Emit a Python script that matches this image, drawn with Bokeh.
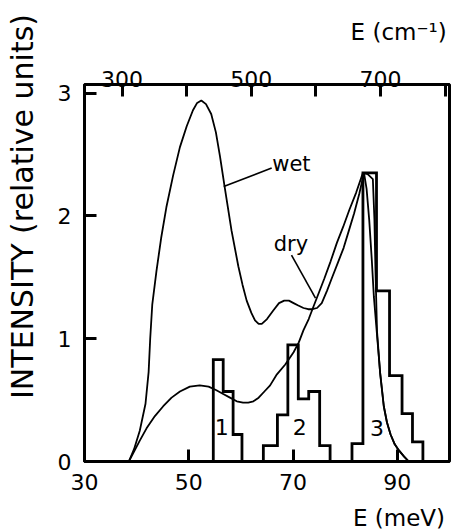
import math
from bokeh.plotting import figure
from bokeh.models import Range1d, LinearAxis, FixedTicker, Label
from bokeh.layouts import row, column
from bokeh.embed import file_html
from bokeh.resources import INLINE

# ---------------- data ----------------
wet_E = [38.5, 39.5, 40.6, 41.7, 42.3, 42.6, 43.0, 43.8, 44.7, 45.7, 47.0, 48.3,
         49.6, 50.8, 51.6, 52.4, 53.3, 54.3, 55.2, 56.0, 56.9, 58.2, 59.5, 60.3,
         61.1, 62.0, 62.7, 63.4, 64.0, 65.0, 66.2, 67.3, 68.3, 69.2, 70.1, 71.0,
         72.0, 72.9, 73.7, 74.6, 75.5, 76.5, 77.5, 78.6, 79.7, 80.7, 81.7, 82.7,
         83.6, 84.1, 84.6, 85.1, 85.5, 86.1, 86.7, 87.4, 88.0, 88.7, 89.5, 90.3,
         91.3, 92.2]
wet_I = [0.00, 0.10, 0.25, 0.47, 0.73, 1.00, 1.28, 1.55, 1.82, 2.07, 2.33, 2.56,
         2.73, 2.86, 2.92, 2.94, 2.91, 2.83, 2.68, 2.48, 2.23, 1.88, 1.59, 1.44,
         1.31, 1.21, 1.15, 1.12, 1.12, 1.16, 1.23, 1.29, 1.31, 1.31, 1.29, 1.27,
         1.25, 1.24, 1.24, 1.25, 1.29, 1.39, 1.50, 1.62, 1.74, 1.88, 2.02, 2.18,
         2.35, 2.22, 1.97, 1.64, 1.34, 1.03, 0.72, 0.45, 0.32, 0.22, 0.14, 0.09,
         0.04, 0.00]

dry_E = [38.5, 39.5, 40.6, 41.9, 43.5, 45.1, 46.7, 48.3, 50.2, 52.1, 53.8, 55.3,
         56.6, 57.9, 59.2, 60.4, 61.4, 62.4, 63.4, 64.5, 65.6, 66.9, 68.5, 70.1,
         71.1, 72.0, 73.0, 73.9, 75.0, 76.0, 77.2, 78.4, 79.6, 80.8, 82.1, 83.4,
         84.3, 85.3, 85.6, 85.8, 86.1, 86.7, 87.4, 88.0, 88.7, 89.5, 90.3, 91.3,
         92.2]
dry_I = [0.00, 0.08, 0.17, 0.27, 0.37, 0.45, 0.52, 0.57, 0.61, 0.62, 0.61, 0.58,
         0.55, 0.52, 0.49, 0.48, 0.48, 0.49, 0.52, 0.57, 0.62, 0.71, 0.79, 0.89,
         0.97, 1.07, 1.16, 1.26, 1.38, 1.49, 1.63, 1.78, 1.91, 2.05, 2.19, 2.35,
         2.34, 2.30, 1.97, 1.56, 1.06, 0.72, 0.45, 0.32, 0.22, 0.14, 0.09, 0.04,
         0.00]

hist1_edges = [54.7, 56.6, 58.5, 60.2]
hist1_heights = [0.83, 0.57, 0.22]
hist2_edges = [64.3, 67.0, 69.0, 71.0, 73.0, 75.1, 77.1]
hist2_heights = [0.13, 0.38, 0.95, 0.51, 0.57, 0.13]
hist3_edges = [81.3, 83.4, 86.0, 88.5, 90.9, 92.9, 94.9]
hist3_heights = [0.145, 2.35, 1.39, 0.70, 0.39, 0.16]

hist_names = ["1", "2", "3"]
hist_name_E = [56.3, 71.3, 86.1]
hist_name_I = [0.28, 0.28, 0.27]

wet_leader_E = [56.7, 65.9]
wet_leader_I = [2.24, 2.39]
dry_leader_E = [69.7, 74.3]
dry_leader_I = [1.68, 1.33]

x_ticks = [30, 50, 70, 90]
y_ticks = [0, 1, 2, 3]
cm_ticks = [300, 400, 500, 600, 700, 800]
cm_labels = {300: "300", 400: "", 500: "500", 600: "", 700: "700", 800: ""}
MEV_TO_CM = 8.0655

y_title = "INTENSITY (relative units)"
x_title = "E (meV)"
top_title = "E (cm\u207b\u00b9)"

FONT = "DejaVu Sans"

# ---------------- layout sizes (pixels) ----------------
TOTAL_W, TOTAL_H = 453, 531
LEFT_W = 48
TOP_H = 52
BOTTOM_H = 31
MAIN_W = TOTAL_W - LEFT_W
MAIN_H = TOTAL_H - TOP_H - BOTTOM_H


def text_strip(w, h):
    f = figure(width=w, height=h, x_range=Range1d(0, w), y_range=Range1d(0, h),
               x_axis_type=None, y_axis_type=None, min_border=0,
               output_backend="svg", toolbar_location=None)
    f.grid.visible = False
    f.outline_line_color = None
    f.background_fill_color = "white"
    f.border_fill_color = "white"
    return f


# ---------------- main plot ----------------
p = figure(width=MAIN_W, height=MAIN_H,
           x_range=Range1d(30, 100), y_range=Range1d(0, 3.07),
           output_backend="svg", toolbar_location=None,
           min_border_left=36, min_border_right=4,
           min_border_top=32, min_border_bottom=39)
p.grid.visible = False
p.outline_line_color = "black"
p.outline_line_width = 3
p.background_fill_color = "white"
p.border_fill_color = "white"

bottom_axis = p.below[0]
left_axis = p.left[0]

p.extra_x_ranges = {"cm": Range1d(30 * MEV_TO_CM, 100 * MEV_TO_CM)}
top_axis = LinearAxis(x_range_name="cm")
p.add_layout(top_axis, "above")


def style_axis(ax, standoff):
    ax.axis_line_width = 3
    ax.axis_line_color = "black"
    ax.major_tick_in = 12
    ax.major_tick_out = 0
    ax.major_tick_line_width = 3
    ax.major_tick_line_color = "black"
    ax.minor_tick_in = 0
    ax.minor_tick_out = 0
    ax.minor_tick_line_color = None
    ax.major_label_text_font = FONT
    ax.major_label_text_font_size = "22px"
    ax.major_label_text_color = "black"
    ax.major_label_standoff = standoff


bottom_axis.ticker = FixedTicker(ticks=x_ticks)
style_axis(bottom_axis, 12)
left_axis.ticker = FixedTicker(ticks=y_ticks)
style_axis(left_axis, 13)
top_axis.ticker = FixedTicker(ticks=cm_ticks)
top_axis.major_label_overrides = cm_labels
style_axis(top_axis, -2)


def outline(edges, heights):
    xs = [edges[0]]
    ys = [0]
    for i, h in enumerate(heights):
        xs += [edges[i], edges[i + 1]]
        ys += [h, h]
    xs.append(edges[-1])
    ys.append(0)
    return xs, ys


for edges, heights in [(hist1_edges, hist1_heights),
                       (hist2_edges, hist2_heights),
                       (hist3_edges, hist3_heights)]:
    hx, hy = outline(edges, heights)
    p.line(hx, hy, line_color="black", line_width=2.8, line_join="miter")

p.line(wet_E, wet_I, line_color="black", line_width=1.8)
p.line(dry_E, dry_I, line_color="black", line_width=1.8)
p.line(wet_leader_E, wet_leader_I, line_color="black", line_width=1.6)
p.line(dry_leader_E, dry_leader_I, line_color="black", line_width=1.6)

p.text(x=hist_name_E, y=hist_name_I, text=hist_names,
       text_align="center", text_baseline="middle",
       text_font={"value": FONT}, text_font_size={"value": "22px"},
       text_color="black")

p.add_layout(Label(x=66.0, y=2.42, text="wet", text_font=FONT,
                   text_font_size="21px", text_align="left",
                   text_baseline="middle", text_color="black"))
p.add_layout(Label(x=66.3, y=1.77, text="dry", text_font=FONT,
                   text_font_size="21px", text_align="left",
                   text_baseline="middle", text_color="black"))

# ---------------- axis titles in side strips ----------------
left_strip = text_strip(LEFT_W, TOTAL_H)
left_strip.add_layout(Label(x=22, y=TOTAL_H - 206, text=y_title,
                            angle=math.pi / 2, text_font=FONT,
                            text_font_size="30px", text_align="center",
                            text_baseline="middle", text_color="black"))

top_strip = text_strip(MAIN_W, TOP_H)
top_strip.add_layout(Label(x=MAIN_W - 3, y=20.8, text=top_title,
                           text_font=FONT, text_font_size="23px",
                           text_align="right", text_baseline="middle",
                           text_color="black"))

bottom_strip = text_strip(MAIN_W, BOTTOM_H)
bottom_strip.add_layout(Label(x=MAIN_W - 5, y=13.5, text=x_title, text_font=FONT,
                              text_font_size="23px", text_align="right",
                              text_baseline="middle", text_color="black"))

layout = row(left_strip, column(top_strip, p, bottom_strip, spacing=0), spacing=0)

open("out.html", "w").write(file_html(layout, INLINE))
